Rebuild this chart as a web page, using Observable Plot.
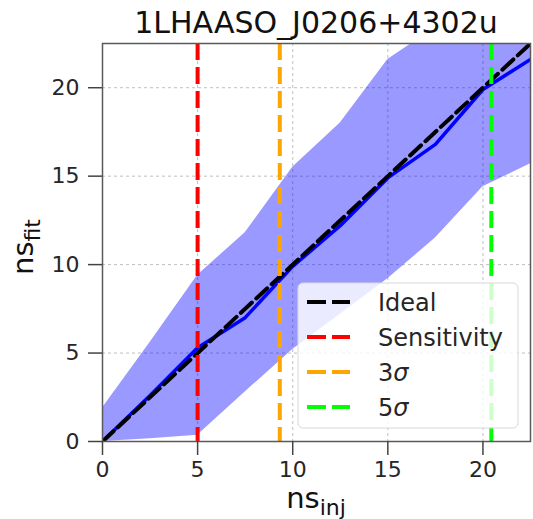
<!DOCTYPE html>
<html>
<head>
<meta charset="utf-8">
<script src="https://cdn.jsdelivr.net/npm/d3@7"></script>
<script src="https://cdn.jsdelivr.net/npm/@observablehq/plot@0.6"></script>
<style>
  html, body { margin: 0; padding: 0; background: #fff; }
  svg { display: block; }
</style>
</head>
<body>
<div id="chart"></div>
<script>
// ---- data ----
const title = "1LHAASO_J0206+4302u";
const nsInj       = [0, 2.5, 5, 7.5, 10, 12.5, 15, 17.5, 20, 22.5];
const nsFitMedian = [0, 2.6, 5.3, 7.0, 9.9, 12.2, 14.9, 16.8, 19.9, 21.6];
const nsFitLower  = [0, 0.15, 0.35, 2.8, 5.2, 7.2, 9.2, 11.5, 14.4, 15.7];
const nsFitUpper  = [1.9, 5.6, 9.4, 11.8, 15.5, 18.0, 21.6, 23.4, 25.5, 27.5];
const idealEnds   = [0, 22.5];
const thresholdNames  = ["Sensitivity", "3σ", "5σ"];
const thresholdValues = [5.0, 9.32, 20.44];
const thresholdColors = ["#ff0000", "#ffa500", "#00ff00"];
const tickValues = [0, 5, 10, 15, 20];
const axisMax = 22.5;
const legendNames  = ["Ideal", ...thresholdNames];
const legendColors = ["#000000", ...thresholdColors];

// ---- tables built from the arrays ----
const band = nsInj.map((x, i) => ({x, med: nsFitMedian[i], lo: nsFitLower[i], hi: nsFitUpper[i]}));
const ideal = idealEnds.map(v => ({x: v, y: v}));
const thresholds = thresholdValues.map((v, i) => ({name: thresholdNames[i], value: v, color: thresholdColors[i]}));

const FONT = "DejaVu Sans, Liberation Sans, sans-serif";
const W = 533, H = 519;
const mL = 102, mR = 3, mT = 43, mB = 78;

const dash = "17,7";

const chart = Plot.plot({
  width: W, height: H,
  marginLeft: mL, marginRight: mR, marginTop: mT, marginBottom: mB,
  style: {fontFamily: FONT, fontSize: "22px", color: "#262626", background: "#fff"},
  x: {domain: [0, axisMax], label: null},
  y: {domain: [0, axisMax], label: null},
  marks: [
    Plot.gridX(tickValues, {stroke: "#b8b8b8", strokeOpacity: 1, strokeWidth: 0.9, strokeDasharray: "3,3"}),
    Plot.gridY(tickValues, {stroke: "#b8b8b8", strokeOpacity: 1, strokeWidth: 0.9, strokeDasharray: "3,3"}),
    Plot.areaY(band, {x: "x", y1: "lo", y2: "hi", fill: "#0000ff", fillOpacity: 0.4, clip: true}),
    Plot.lineY(band, {x: "x", y: "med", stroke: "#0000ff", strokeWidth: 3.5, clip: true}),
    Plot.line(ideal, {x: "x", y: "y", stroke: "#000", strokeWidth: 4, strokeDasharray: "15,6", clip: true}),
    ...thresholds.map(t => Plot.ruleX([t], {x: "value", stroke: t.color, strokeWidth: 4, strokeDasharray: dash})),
    Plot.frame({stroke: "#5a5a5a", strokeWidth: 1.5}),
    Plot.axisX({ticks: tickValues, tickSize: 14, tickPadding: 6, fontSize: 22, stroke: "#444", strokeWidth: 1.5, label: null, tickFormat: d => d}),
    Plot.axisY({ticks: tickValues, tickSize: 14, tickPadding: 9, fontSize: 22, stroke: "#444", strokeWidth: 1.5, label: null, tickFormat: d => d})
  ]
});

document.getElementById("chart").appendChild(chart);

// ---- title, axis labels and legend (text with sub-scripts) ----
const svg = d3.select(chart);
const plotCx = (mL + (W - mR)) / 2;

svg.append("text")
  .attr("x", plotCx).attr("y", 33)
  .attr("text-anchor", "middle")
  .style("font-family", FONT).style("font-size", "30px").attr("fill", "#111")
  .text(title);

const xl = svg.append("text")
  .attr("x", plotCx).attr("y", 508)
  .attr("text-anchor", "middle")
  .style("font-family", FONT).attr("fill", "#111");
xl.append("tspan").style("font-size", "29px").text("ns");
xl.append("tspan").style("font-size", "22px").attr("dy", 7).text("inj");

const yl = svg.append("text")
  .attr("transform", "translate(33,247) rotate(-90)")
  .attr("text-anchor", "middle")
  .style("font-family", FONT).attr("fill", "#111");
yl.append("tspan").style("font-size", "29px").text("ns");
yl.append("tspan").style("font-size", "22px").attr("dy", 7).text("fit");

// legend
const lg = svg.append("g").attr("text-anchor", "start");
lg.append("rect")
  .attr("x", 298).attr("y", 283).attr("width", 220).attr("height", 145)
  .attr("rx", 5).attr("ry", 5)
  .attr("fill", "#fff").attr("fill-opacity", 0.8)
  .attr("stroke", "#d8d8d8").attr("stroke-width", 1);
legendNames.forEach((name, i) => {
  const cy = 302 + i * 35;
  lg.append("line")
    .attr("x1", 307).attr("x2", 350).attr("y1", cy).attr("y2", cy)
    .attr("stroke", legendColors[i]).attr("stroke-width", 4)
    .attr("stroke-dasharray", "19,6");
  const t = lg.append("text")
    .attr("x", 378).attr("y", cy).attr("dy", "0.36em")
    .attr("text-anchor", "start")
    .style("font-family", FONT).style("font-size", "24px").attr("fill", "#262626");
  const m = name.match(/^(\d)(σ)$/);
  if (m) {
    t.append("tspan").text(m[1]);
    t.append("tspan").style("font-style", "italic").text(m[2]);
  } else {
    t.text(name);
  }
});
</script>
</body>
</html>
